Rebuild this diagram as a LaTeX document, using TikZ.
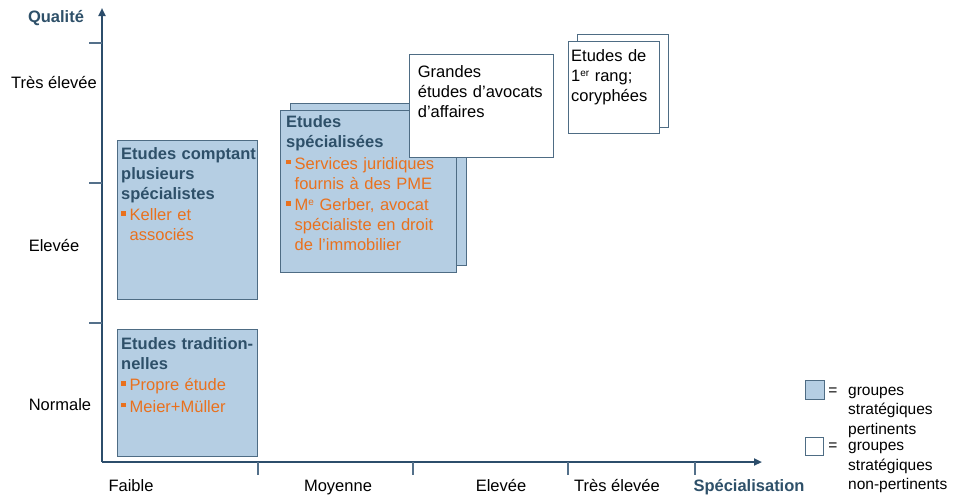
\documentclass[tikz,border=0pt]{standalone}
\usepackage{fontspec}
\setmainfont{Liberation Sans}
\usetikzlibrary{arrows.meta,positioning}
\definecolor{AxLine} {RGB}{44,77,107}
\definecolor{TickLine}{RGB}{84,112,138}
\definecolor{GrpFill}{RGB}{181,206,227}
\definecolor{GrpLine}{RGB}{78,108,132}
\definecolor{HdrTxt} {RGB}{46,80,105}
\definecolor{OrgTxt} {RGB}{233,113,30}
\newcommand{\fsz}{\fontsize{16.5}{20}\selectfont}
\newcommand{\lsz}{\fontsize{15.5}{19.5}\selectfont}
\newcommand{\hdr}{\bfseries\color{HdrTxt}}
\newcommand{\itm}[1]{\par\vspace{1.5pt}\hangindent=8.5pt\hangafter=1\noindent
  \makebox[8.5pt][l]{\textcolor{OrgTxt}{\rule[5pt]{4.5pt}{4.5pt}}}{\color{OrgTxt}#1}\par}
\newcommand{\upx}[1]{{\fontsize{10}{10}\selectfont\raisebox{5pt}{#1}}}
\tikzset{
  nd_rel/.style={rectangle,draw=GrpLine,fill=GrpFill,line width=1.3pt,inner sep=0pt,anchor=north west},
  nd_irr/.style={rectangle,draw=GrpLine,fill=white,line width=1.3pt,inner sep=0pt,anchor=north west},
  txt/.style={anchor=base west,inner sep=0pt,align=left,text width=#1,font=\fsz},
  lbl/.style={anchor=base,inner sep=0pt,font=\fsz},
  axt/.style={anchor=base,inner sep=0pt,font=\fsz\bfseries,text=HdrTxt},
  axis/.style={draw=AxLine,line width=2pt,-{Triangle[length=8pt,width=7pt]}},
  tck/.style={draw=TickLine,line width=1.3pt},
  leg/.style={anchor=base west,inner sep=0pt,align=left,text width=110pt,font=\lsz},
}
\begin{document}
\begin{tikzpicture}[x=1pt,y=-1pt]
\useasboundingbox (0,0) rectangle (955,499);
% axes
\coordinate (O) at (102,462);
\coordinate (ytop) at (102,8);
\coordinate (xend) at (762,462);
\draw[axis] (O) -- (ytop);
\draw[axis] (O) -- (xend);
\foreach \y in {43,183,323}{\draw[tck] (89,\y) -- (102,\y);}
\foreach \x in {258,413,568,695}{\draw[tck] (\x,462) -- (\x,475);}
% axis labels
\node[axt] (qal) at (56,22.7) {Qualité};
\node[lbl] (q3) at (54,88) {Très élevée};
\node[lbl] (q2) at (54,251) {Elevée};
\node[lbl] (q1) at (60,410) {Normale};
\node[lbl] (s1) at (131,491.5) {Faible};
\node[lbl] (s2) at (338,491.5) {Moyenne};
\node[lbl] (s3) at (501,491.5) {Elevée};
\node[lbl] (s4) at (617,491.5) {Très élevée};
\node[axt] (spe) at (749,491) {Spécialisation};
% groups
\node[nd_rel,minimum width=140pt,minimum height=159pt] (bA) at (117,140) {};
\node[txt=136pt] (tA) at (121,159.3) {{\hdr Etudes comptant\\plusieurs\\spécialistes}\itm{Keller et\newline associés}};
\node[nd_rel,minimum width=140pt,minimum height=127pt] (bB) at (117,329) {};
\node[txt=136pt] (tB) at (121,349.3) {{\hdr Etudes tradition-\\nelles}\itm{Propre étude}\itm{Meier+Müller}};
\node[nd_rel,minimum width=176pt,minimum height=162pt] (bC2) at (290,103) {};
\node[nd_rel,minimum width=176pt,minimum height=162pt] (bC) at (280,110) {};
\node[txt=172pt] (tC) at (286,127.7) {{\hdr Etudes\\spécialisées}\itm{Services juridiques\newline fournis à des PME}\itm{M\upx{e} Gerber, avocat\newline spécialiste en droit\newline de l’immobilier}};
\node[nd_irr,minimum width=144pt,minimum height=103pt] (bD) at (409,54) {};
\node[txt=134pt] (tD) at (417.7,77.7) {Grandes\\études d’avocats\\d’affaires};
\node[nd_irr,minimum width=91pt,minimum height=93pt] (bE2) at (577,34) {};
\node[nd_irr,minimum width=91pt,minimum height=92pt] (bE) at (568,41) {};
\node[txt=86pt] (tE) at (571,61) {Etudes de\\1\upx{er} rang;\\coryphées};
% legend
\node[nd_rel,minimum size=19pt] (kA) at (805,380) {};
\node[lbl,font=\lsz] (eA) at (833,395) {=};
\node[leg] (lA) at (848,395) {groupes\\stratégiques\\pertinents};
\node[nd_irr,minimum size=18pt] (kB) at (805,437) {};
\node[lbl,font=\lsz] (eB) at (833,450.5) {=};
\node[leg] (lB) at (848,450.5) {groupes\\stratégiques\\non-pertinents};
\end{tikzpicture}
\end{document}
